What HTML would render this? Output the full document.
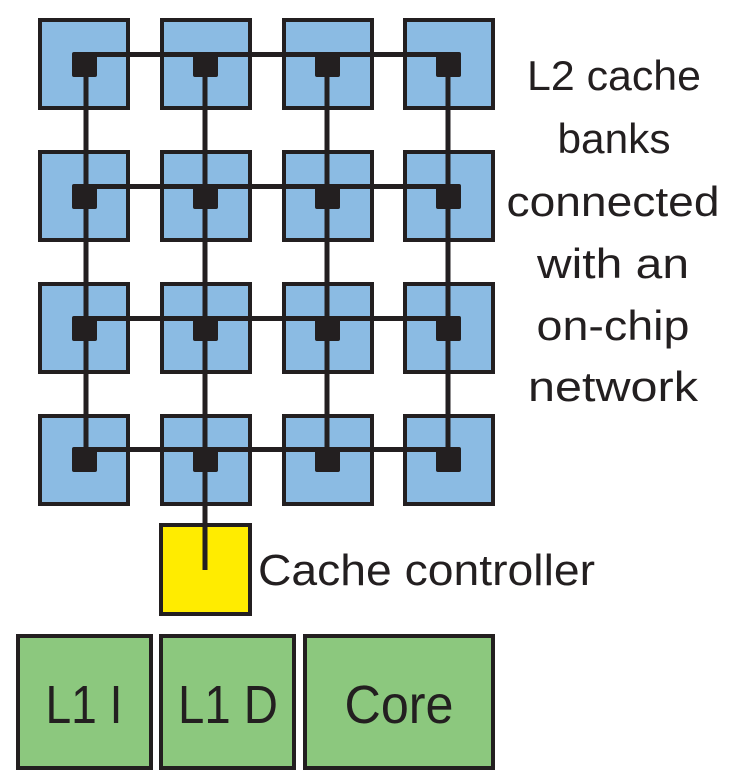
<!DOCTYPE html>
<html><head><meta charset="utf-8"><style>html,body{margin:0;padding:0;background:#fff}svg{display:block}</style></head>
<body>
<svg width="733" height="783" viewBox="0 0 733 783" xmlns="http://www.w3.org/2000/svg" font-family="Liberation Sans, sans-serif" fill="#231f20">
<g stroke="#231f20" stroke-width="4" fill="#8bbbe3">
<rect x="40" y="20" width="88" height="88"/><rect x="162" y="20" width="88" height="88"/><rect x="284" y="20" width="88" height="88"/><rect x="405" y="20" width="88" height="88"/>
<rect x="40" y="152" width="88" height="88"/><rect x="162" y="152" width="88" height="88"/><rect x="284" y="152" width="88" height="88"/><rect x="405" y="152" width="88" height="88"/>
<rect x="40" y="284" width="88" height="88"/><rect x="162" y="284" width="88" height="88"/><rect x="284" y="284" width="88" height="88"/><rect x="405" y="284" width="88" height="88"/>
<rect x="40" y="416" width="88" height="88"/><rect x="162" y="416" width="88" height="88"/><rect x="284" y="416" width="88" height="88"/><rect x="405" y="416" width="88" height="88"/>
</g>
<rect x="161" y="525" width="89" height="89" fill="#ffec00" stroke="#231f20" stroke-width="4"/>
<g fill="#8cc87e" stroke="#231f20" stroke-width="4">
<rect x="18" y="636" width="133" height="132"/>
<rect x="161" y="636" width="133" height="132"/>
<rect x="305" y="636" width="188" height="132"/>
</g>
<g stroke="#231f20" stroke-width="5">
<line x1="84" y1="54.5" x2="452" y2="54.5"/>
<line x1="84" y1="186.5" x2="452" y2="186.5"/>
<line x1="84" y1="318.5" x2="452" y2="318.5"/>
<line x1="84" y1="449.5" x2="452" y2="449.5"/>
<line x1="86" y1="52" x2="86" y2="462"/>
<line x1="205" y1="52" x2="205" y2="570"/>
<line x1="327" y1="52" x2="327" y2="462"/>
<line x1="448" y1="52" x2="448" y2="462"/>
</g>
<g>
<rect x="72" y="52" width="25" height="25" rx="2"/><rect x="193" y="52" width="25" height="25" rx="2"/><rect x="315" y="52" width="25" height="25" rx="2"/><rect x="436" y="52" width="25" height="25" rx="2"/>
<rect x="72" y="184" width="25" height="25" rx="2"/><rect x="193" y="184" width="25" height="25" rx="2"/><rect x="315" y="184" width="25" height="25" rx="2"/><rect x="436" y="184" width="25" height="25" rx="2"/>
<rect x="72" y="316" width="25" height="25" rx="2"/><rect x="193" y="316" width="25" height="25" rx="2"/><rect x="315" y="316" width="25" height="25" rx="2"/><rect x="436" y="316" width="25" height="25" rx="2"/>
<rect x="72" y="447" width="25" height="25" rx="2"/><rect x="193" y="447" width="25" height="25" rx="2"/><rect x="315" y="447" width="25" height="25" rx="2"/><rect x="436" y="447" width="25" height="25" rx="2"/>
</g>
<g font-size="42" text-anchor="middle">
<text x="614" y="90" textLength="174" lengthAdjust="spacingAndGlyphs">L2 cache</text>
<text x="614" y="153" textLength="113" lengthAdjust="spacingAndGlyphs">banks</text>
<text x="613" y="216" textLength="213" lengthAdjust="spacingAndGlyphs">connected</text>
<text x="613" y="278" textLength="152" lengthAdjust="spacingAndGlyphs">with an</text>
<text x="613" y="340" textLength="153" lengthAdjust="spacingAndGlyphs">on-chip</text>
<text x="613" y="401" textLength="170" lengthAdjust="spacingAndGlyphs">network</text>
</g>
<text x="258" y="585" font-size="44" textLength="337" lengthAdjust="spacingAndGlyphs">Cache controller</text>
<g font-size="54" text-anchor="middle">
<text x="84" y="723" textLength="77" lengthAdjust="spacingAndGlyphs">L1 I</text>
<text x="228" y="723" textLength="100" lengthAdjust="spacingAndGlyphs">L1 D</text>
<text x="399" y="723" textLength="109" lengthAdjust="spacingAndGlyphs">Core</text>
</g>
</svg>
</body></html>
